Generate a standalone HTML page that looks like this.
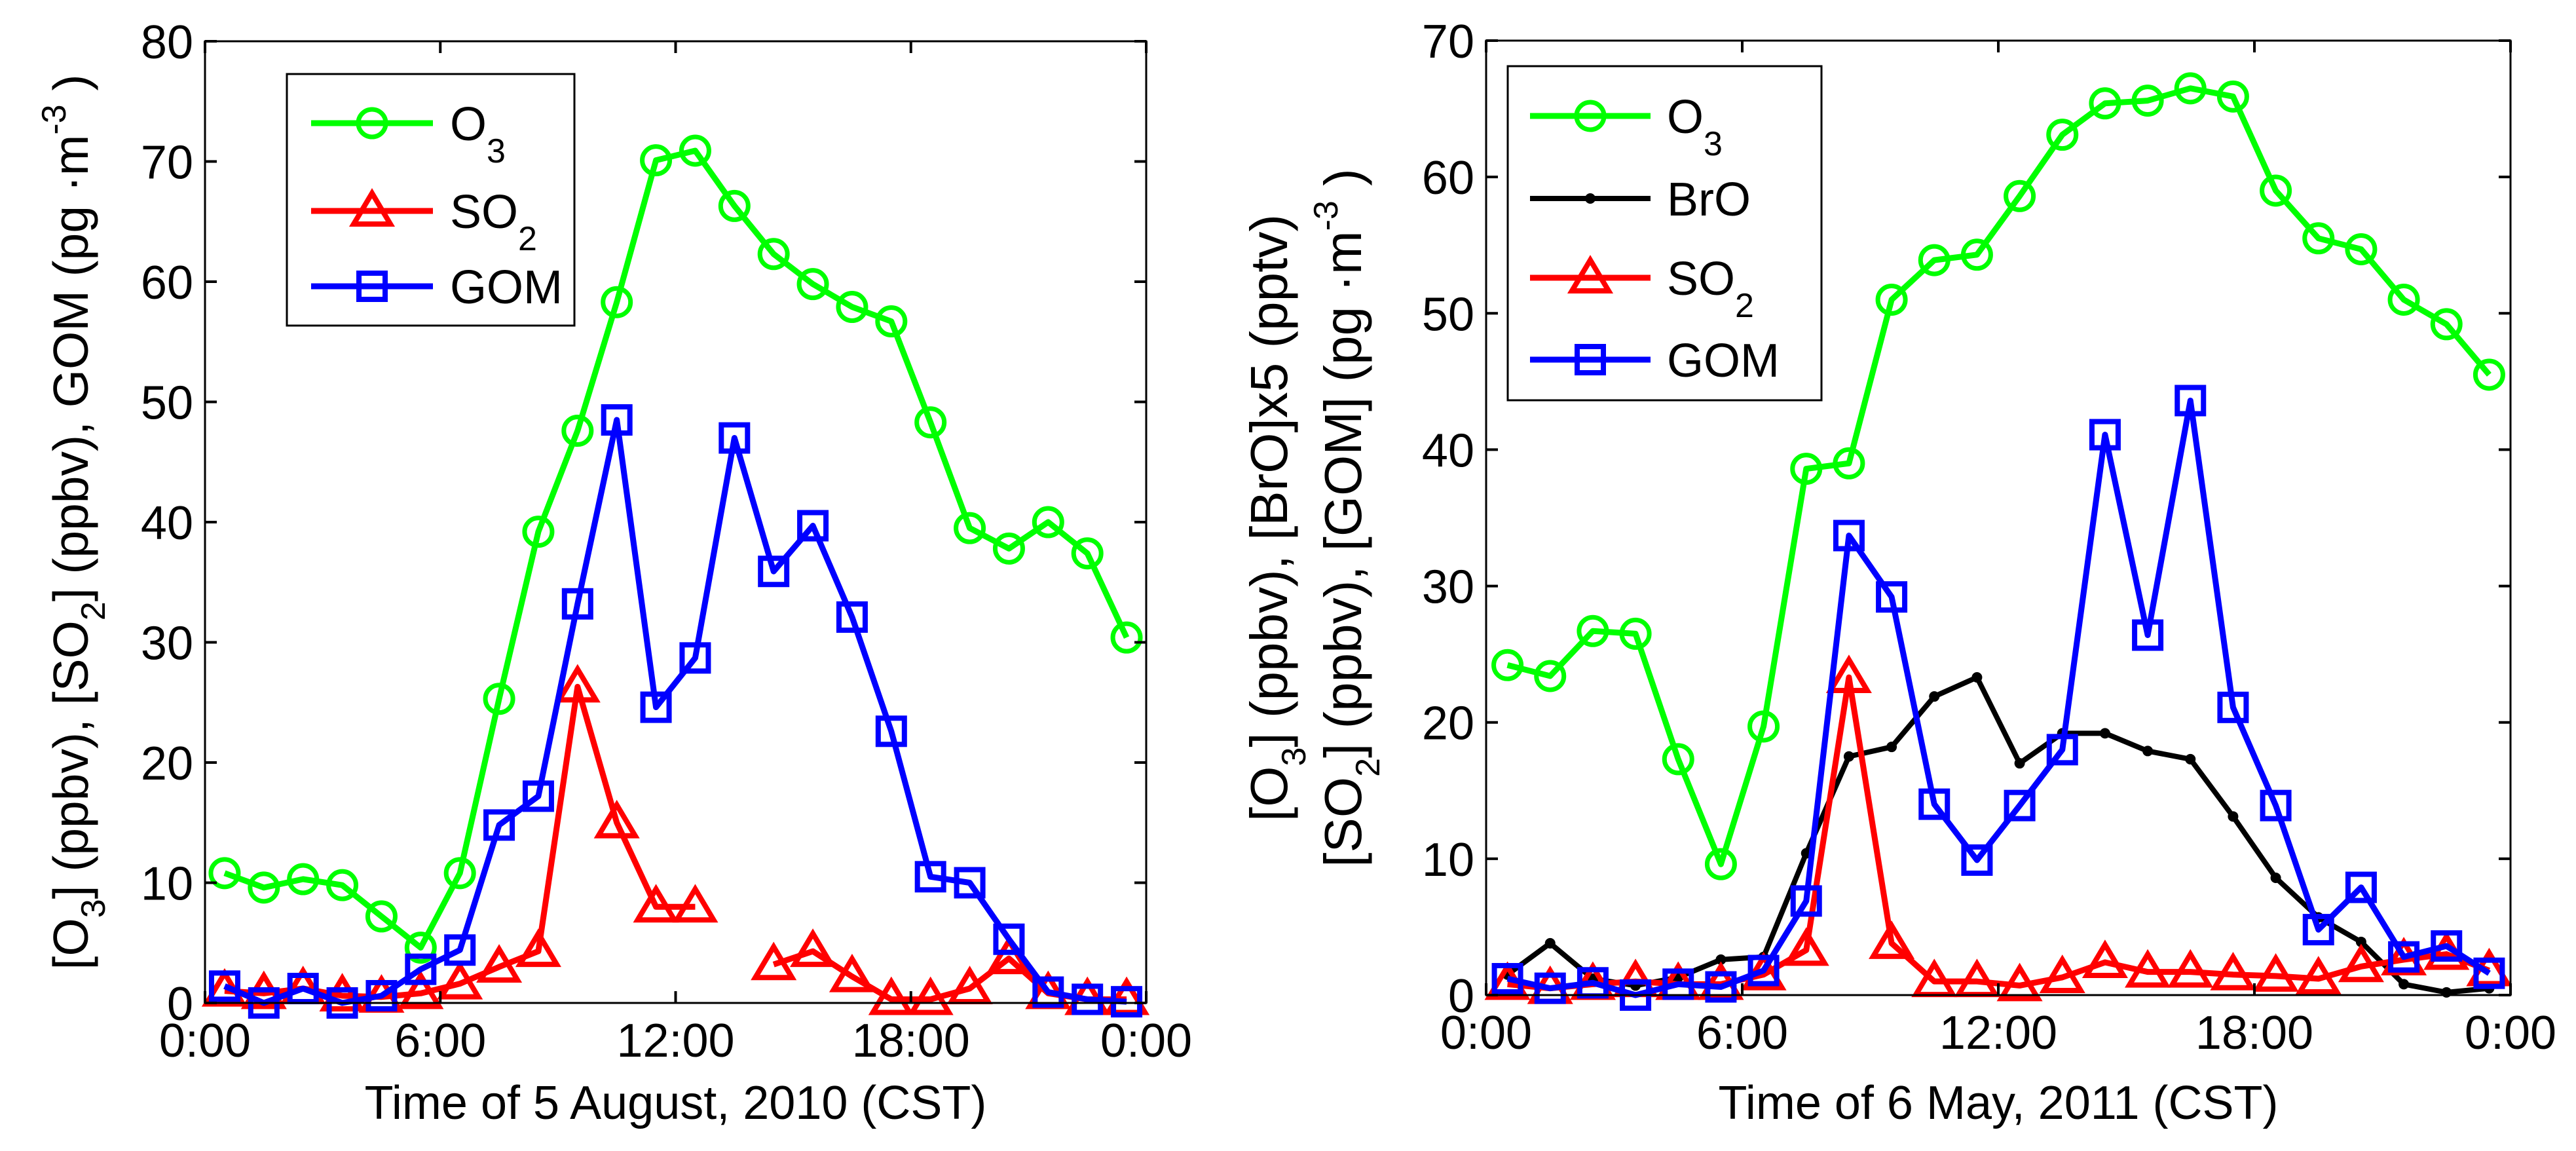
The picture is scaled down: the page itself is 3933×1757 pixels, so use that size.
<!DOCTYPE html>
<html><head><meta charset="utf-8"><style>
html,body{margin:0;padding:0;background:#fff}
svg{display:block;font-family:"Liberation Sans",Arial,sans-serif}
</style></head><body>
<svg id="fig" width="3933" height="1757" viewBox="0 0 3933 1757" xmlns="http://www.w3.org/2000/svg">
<rect width="3933" height="1757" fill="#fff"/>
<g id="p1"></g>
<g id="p2"></g>
</svg>
<script>
const hours = [0.5,1.5,2.5,3.5,4.5,5.5,6.5,7.5,8.5,9.5,10.5,11.5,12.5,13.5,14.5,15.5,16.5,17.5,18.5,19.5,20.5,21.5,22.5,23.5];
const xTickLabels = ["0:00","6:00","12:00","18:00","0:00"];
const xTickHours = [0,6,12,18,24];
const yTicks1 = [0,10,20,30,40,50,60,70,80];
const yTicks2 = [0,10,20,30,40,50,60,70];
const o3A = [10.8,9.6,10.3,9.8,7.2,4.6,10.8,25.3,39.2,47.6,58.3,70.1,70.9,66.3,62.3,59.8,57.9,56.7,48.3,39.5,37.8,40.0,37.4,30.4];
const so2A = [1.0,0.8,1.2,0.6,0.5,0.8,1.6,3.0,4.3,26.3,15.0,8.0,8.0,null,3.2,4.3,2.2,0.3,0.3,1.2,3.7,0.8,0.3,0.3];
const gomA = [1.4,0.0,1.2,0.0,0.6,2.8,4.4,14.8,17.2,33.2,48.5,24.6,28.7,47.0,35.9,39.7,32.1,22.6,10.5,10.0,5.3,0.9,0.3,0.1];
const o3B = [24.2,23.4,26.7,26.5,17.3,9.6,19.7,38.6,39.0,51.0,53.9,54.3,58.6,63.1,65.4,65.6,66.5,65.9,59.0,55.5,54.7,51.0,49.2,45.5];
const broB = [1.5,3.8,1.2,0.7,1.3,2.6,2.8,10.4,17.5,18.2,21.9,23.3,17.0,19.2,19.2,17.9,17.3,13.1,8.6,5.7,3.9,0.8,0.2,0.5];
const so2B = [0.8,0.5,0.8,1.0,0.8,0.8,1.5,3.3,23.3,3.8,1.0,1.0,0.7,1.3,2.4,1.7,1.7,1.5,1.4,1.2,2.1,2.6,3.0,1.8];
const gomB = [1.2,0.5,0.9,0.0,0.8,0.6,1.8,6.9,33.7,29.2,14.0,9.9,13.9,18.0,41.1,26.4,43.6,21.1,13.9,4.8,7.9,2.8,3.6,1.6];

const NS="http://www.w3.org/2000/svg";
function mk(parent,tag,attrs){const e=document.createElementNS(NS,tag);for(const k in attrs)e.setAttribute(k,attrs[k]);parent.appendChild(e);return e;}
const COL={o3:"#00ff00",so2:"#ff0000",gom:"#0000ff",bro:"#000000"};

function marker(g,type,x,y,color){
  let m;
  if(type==="circle"){m=mk(g,"circle",{cx:x,cy:y,r:21,fill:"none",stroke:color,"stroke-width":7});}
  else if(type==="square"){m=mk(g,"rect",{x:x-20,y:y-20,width:40,height:40,fill:"none",stroke:color,"stroke-width":8});}
  else if(type==="triangle"){m=mk(g,"polygon",{points:`${x},${y-27} ${x-28},${y+20} ${x+28},${y+20}`,fill:"none",stroke:color,"stroke-width":8,"stroke-linejoin":"miter"});}
  else {m=mk(g,"circle",{cx:x,cy:y,r:8,fill:color});}
  return m;
}

function panel(gid,box,ymax,yTicks,series,xlabel,legendBox,legendRows,ylabelFn){
  const g=document.getElementById(gid);
  const X=h=>box.l+(box.r-box.l)*h/24;
  const Y=v=>box.b-(box.b-box.t)*v/ymax;
  series.forEach(s=>{
    const sg=mk(g,"g",{});
    
    
    let seg=[];const segs=[];
    s.vals.forEach((v,i)=>{if(v===null){if(seg.length)segs.push(seg);seg=[];}else seg.push([X(hours[i]),Y(v)]);});
    if(seg.length)segs.push(seg);
    segs.forEach(sp=>{
      const pl=mk(sg,"polyline",{points:sp.map(p=>p.join(",")).join(" "),fill:"none",stroke:s.color,"stroke-width":s.lw,"stroke-linejoin":"round"});
      
      
    });
    s.vals.forEach((v,i)=>{if(v===null)return;
      const m=marker(sg,s.marker,X(hours[i]),Y(v),s.color);
      
      
    });
  });
  const ax=mk(g,"rect",{x:box.l,y:box.t,width:box.r-box.l,height:box.b-box.t,fill:"none",stroke:"#000","stroke-width":3});
  
  
  yTicks.forEach(v=>{
    const y=Y(v);
    mk(g,"line",{x1:box.l,y1:y,x2:box.l+18,y2:y,stroke:"#000","stroke-width":4});
    mk(g,"line",{x1:box.r,y1:y,x2:box.r-18,y2:y,stroke:"#000","stroke-width":4});
    const t=mk(g,"text",{x:box.l-18,y:y+26,"font-size":72,"text-anchor":"end",fill:"#000"});
    t.textContent=v;
    
    
  });
  xTickHours.forEach((h,i)=>{
    const x=X(h);
    mk(g,"line",{x1:x,y1:box.b,x2:x,y2:box.b-18,stroke:"#000","stroke-width":4});
    mk(g,"line",{x1:x,y1:box.t,x2:x,y2:box.t+18,stroke:"#000","stroke-width":4});
    const t=mk(g,"text",{x:x,y:box.b+82,"font-size":72,"text-anchor":"middle",fill:"#000"});
    t.textContent=xTickLabels[i];
    
    
  });
  const xl=mk(g,"text",{x:(box.l+box.r)/2,y:1708,"font-size":72,"text-anchor":"middle",fill:"#000"});
  xl.textContent=xlabel;
  
  
  ylabelFn(g,(box.t+box.b)/2);
  const lg=mk(g,"g",{});
  
  
  mk(lg,"rect",{x:legendBox.x,y:legendBox.y,width:legendBox.w,height:legendBox.h,fill:"#fff",stroke:"#000","stroke-width":3});
  legendRows.forEach(r=>{
    const eg=mk(lg,"g",{});
    
    
    mk(eg,"line",{x1:legendBox.lx1,y1:r.y,x2:legendBox.lx2,y2:r.y,stroke:r.color,"stroke-width":r.lw});
    marker(eg,r.marker,(legendBox.lx1+legendBox.lx2)/2,r.y,r.color);
    const t=mk(eg,"text",{x:legendBox.tx,y:r.y+26,"font-size":72,fill:"#000"});
    t.innerHTML=r.label;
  });
}

function ylabelLine(g,x,cy,fs,html,name){
  const t=mk(g,"text",{x:0,y:0,"font-size":fs,"text-anchor":"middle",fill:"#000",transform:`translate(${x},${cy}) rotate(-90)`});
  t.innerHTML=html;
  
  
}
// subscript then continue with rest
const sub=(s,rest,d)=>`<tspan font-size="52" dy="${d}">${s}</tspan><tspan dy="${-d}">${rest}</tspan>`;
const sup=(s,rest,d)=>`<tspan font-size="52" dy="${-d}">${s}</tspan><tspan dy="${d}">${rest}</tspan>`;

panel("p1",{l:313,r:1750,t:63,b:1531},80,yTicks1,[
  {name:"o3",vals:o3A,color:COL.o3,marker:"circle",lw:9},
  {name:"so2",vals:so2A,color:COL.so2,marker:"triangle",lw:9},
  {name:"gom",vals:gomA,color:COL.gom,marker:"square",lw:9}
],"Time of 5 August, 2010 (CST)",
{x:438,y:113,w:439,h:384,lx1:475,lx2:661,tx:687},
[{name:"o3",y:188,color:COL.o3,marker:"circle",lw:9,label:"O"+sub("3","",34)},
 {name:"so2",y:322,color:COL.so2,marker:"triangle",lw:9,label:"SO"+sub("2","",34)},
 {name:"gom",y:437,color:COL.gom,marker:"square",lw:9,label:"GOM"}],
(g,cy)=>{ylabelLine(g,134,cy,75,"[O"+sub("3","] (ppbv), [SO",26)+sub("2","] (ppbv), GOM (pg ·m",26)+sup("-3"," )",34),"y-axis-title");});

panel("p2",{l:2269,r:3833,t:62,b:1519},70,yTicks2,[
  {name:"o3",vals:o3B,color:COL.o3,marker:"circle",lw:9},
  {name:"bro",vals:broB,color:COL.bro,marker:"dot",lw:8},
  {name:"so2",vals:so2B,color:COL.so2,marker:"triangle",lw:9},
  {name:"gom",vals:gomB,color:COL.gom,marker:"square",lw:9}
],"Time of 6 May, 2011 (CST)",
{x:2302,y:101,w:479,h:510,lx1:2336,lx2:2520,tx:2545},
[{name:"o3",y:177,color:COL.o3,marker:"circle",lw:9,label:"O"+sub("3","",34)},
 {name:"bro",y:303,color:COL.bro,marker:"dot",lw:8,label:"BrO"},
 {name:"so2",y:424,color:COL.so2,marker:"triangle",lw:9,label:"SO"+sub("2","",34)},
 {name:"gom",y:549,color:COL.gom,marker:"square",lw:9,label:"GOM"}],
(g,cy)=>{
  ylabelLine(g,1965,cy,80,"[O"+sub("3","] (ppbv), [BrO]x5 (pptv)",28),"y-axis-title-line1");
  ylabelLine(g,2078,cy,80,"[SO"+sub("2","] (ppbv), [GOM] (pg ·m",28)+sup("-3"," )",36),"y-axis-title-line2");
});
</script>
</body></html>
